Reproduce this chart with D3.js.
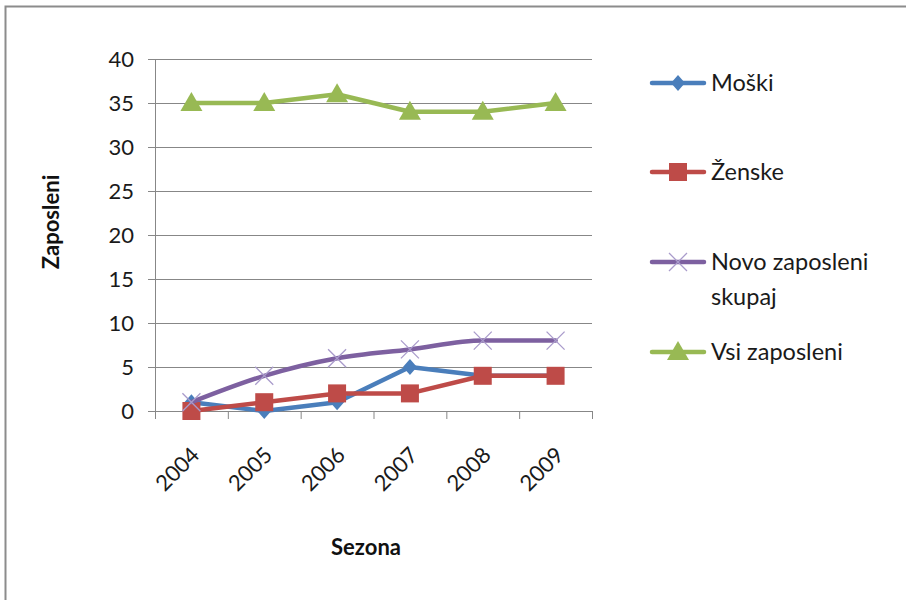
<!DOCTYPE html>
<html>
<head>
<meta charset="utf-8">
<script src="https://cdn.jsdelivr.net/npm/d3@7"></script>
<style>
  html, body { margin: 0; padding: 0; background: #fff; }
  svg { display: block; font-family: Lato, "Open Sans", "Noto Sans", sans-serif; }
</style>
</head>
<body>
<svg id="chart" width="906" height="600"></svg>
<script>
// Season labels along the category axis
const seasons = ["2004", "2005", "2006", "2007", "2008", "2009"];

// Employee counts per season
const moski = [1, 0, 1, 5, 4, 4];
const zenske = [0, 1, 2, 2, 4, 4];
const novoZaposleni = [1, 4, 6, 7, 8, 8];
const vsiZaposleni = [35, 35, 36, 34, 34, 35];

// Value axis ticks
const yTicks = [0, 5, 10, 15, 20, 25, 30, 35, 40];

const series = [
  { name: ["Moški"], values: moski, color: "#4a7ebb", marker: "diamond", smooth: false },
  { name: ["Ženske"], values: zenske, color: "#be4b48", marker: "square", smooth: false },
  { name: ["Novo zaposleni", "skupaj"], values: novoZaposleni, color: "#7d60a0", marker: "cross", smooth: true },
  { name: ["Vsi zaposleni"], values: vsiZaposleni, color: "#98b954", marker: "triangle", smooth: false }
];

const svg = d3.select("#chart");

// Outer chart frame
svg.append("rect")
  .attr("x", 5.5).attr("y", 6.5)
  .attr("width", 1000).attr("height", 1000)
  .attr("fill", "none")
  .attr("stroke", "#8c8c8c")
  .attr("stroke-width", 2);

const plot = { left: 155, right: 592, top: 59, bottom: 411 };

const x = d3.scaleBand().domain(seasons).range([plot.left, plot.right]);
const y = d3.scaleLinear().domain([0, 40]).range([plot.bottom, plot.top]);
const cx = d => x(d) + x.bandwidth() / 2;

// Horizontal gridlines
svg.append("g").selectAll("line")
  .data(yTicks)
  .join("line")
  .attr("x1", plot.left - 7).attr("x2", plot.right)
  .attr("y1", d => y(d) + 0.5).attr("y2", d => y(d) + 0.5)
  .attr("stroke", "#878787").attr("stroke-width", 1);

// Value axis line
svg.append("line")
  .attr("x1", plot.left + 0.5).attr("x2", plot.left + 0.5)
  .attr("y1", plot.top).attr("y2", plot.bottom)
  .attr("stroke", "#878787");

// Value axis labels
svg.append("g").selectAll("text")
  .data(yTicks)
  .join("text")
  .attr("x", plot.left - 25 + 4)
  .attr("y", d => y(d))
  .attr("dy", "0.36em")
  .attr("text-anchor", "end")
  .attr("font-size", 22)
  .attr("fill", "#1a1a1a")
  .text(d => d);

// Category tick marks at band boundaries
const boundaries = seasons.map(s => x(s)).concat([plot.right]);
svg.append("g").selectAll("line")
  .data(boundaries)
  .join("line")
  .attr("x1", d => d + 0.5).attr("x2", d => d + 0.5)
  .attr("y1", plot.bottom).attr("y2", plot.bottom + 8)
  .attr("stroke", "#878787");

// Rotated category labels
svg.append("g").selectAll("text")
  .data(seasons)
  .join("text")
  .attr("transform", d => `translate(${cx(d) + 4},${plot.bottom + 40}) rotate(-45)`)
  .attr("text-anchor", "end")
  .attr("dy", "0.35em")
  .attr("font-size", 22)
  .attr("fill", "#1a1a1a")
  .text(d => d);

// Axis titles
svg.append("text")
  .attr("transform", "translate(59,222) rotate(-90)")
  .attr("text-anchor", "middle")
  .attr("font-size", 22)
  .attr("font-weight", "bold")
  .attr("fill", "#111")
  .text("Zaposleni");

svg.append("text")
  .attr("x", 366).attr("y", 555)
  .attr("text-anchor", "middle")
  .attr("font-size", 22)
  .attr("font-weight", "bold")
  .attr("fill", "#111")
  .text("Sezona");

// Marker drawing helper
function drawMarker(g, type, px, py, color) {
  if (type === "diamond") {
    g.append("path")
      .attr("d", `M${px},${py - 8}L${px + 7},${py}L${px},${py + 8}L${px - 7},${py}Z`)
      .attr("fill", color);
  } else if (type === "square") {
    g.append("rect")
      .attr("x", px - 9).attr("y", py - 9)
      .attr("width", 18).attr("height", 18)
      .attr("fill", color);
  } else if (type === "triangle") {
    g.append("path")
      .attr("d", `M${px},${py - 11}L${px + 11},${py + 8}L${px - 11},${py + 8}Z`)
      .attr("fill", color);
  } else if (type === "cross") {
    g.append("path")
      .attr("d", `M${px - 9},${py - 9}L${px + 9},${py + 9}M${px - 9},${py + 9}L${px + 9},${py - 9}`)
      .attr("stroke", "#a99bcb")
      .attr("stroke-width", 1.3)
      .attr("fill", "none");
  }
}

const linePlain = d3.line().x(d => cx(d.s)).y(d => y(d.v));
const lineSmooth = d3.line().x(d => cx(d.s)).y(d => y(d.v)).curve(d3.curveMonotoneX);

series.forEach(ser => {
  const pts = seasons.map((s, i) => ({ s, v: ser.values[i] }));
  const g = svg.append("g");
  g.append("path")
    .attr("d", (ser.smooth ? lineSmooth : linePlain)(pts))
    .attr("fill", "none")
    .attr("stroke", ser.color)
    .attr("stroke-width", 4.5)
    .attr("stroke-linejoin", "round")
    .attr("stroke-linecap", "round");
  pts.forEach(p => drawMarker(g, ser.marker, cx(p.s), y(p.v), ser.color));
});

// Legend
const legendRows = [83, 172, 262, 352];
series.forEach((ser, i) => {
  const ly = legendRows[i];
  const g = svg.append("g");
  g.append("line")
    .attr("x1", 652).attr("x2", 704)
    .attr("y1", ly).attr("y2", ly)
    .attr("stroke", ser.color)
    .attr("stroke-width", 4.5)
    .attr("stroke-linecap", "round");
  drawMarker(g, ser.marker, 678, ly, ser.color);
  const t = g.append("text")
    .attr("x", 711).attr("y", ly)
    .attr("font-size", 23.5)
    .attr("fill", "#1a1a1a");
  ser.name.forEach((line, j) => {
    t.append("tspan")
      .attr("x", 711)
      .attr("dy", j === 0 ? "0.36em" : "1.45em")
      .text(line);
  });
});
</script>
</body>
</html>
